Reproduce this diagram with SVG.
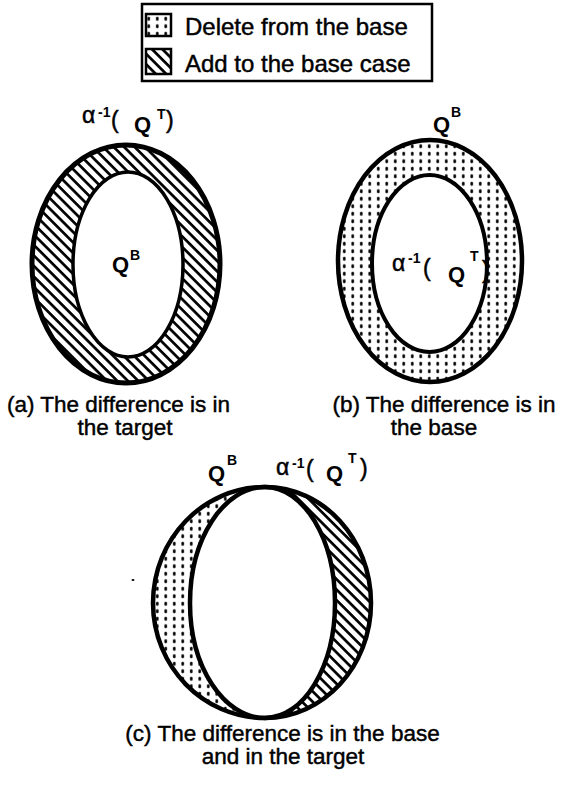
<svg xmlns="http://www.w3.org/2000/svg" width="561" height="787" viewBox="0 0 561 787">
<style>
text{font-family:"Liberation Sans",Arial,sans-serif;fill:#000}
.cap{font-size:22.5px;stroke:#000;stroke-width:0.45}
.leg{font-size:24px;stroke:#000;stroke-width:0.45}
.lbl{font-size:23px;stroke:#000;stroke-width:0.5}
.q{font-size:22px;font-weight:bold}
.sup{font-size:14px;font-weight:bold}
.ring{stroke:#000;fill:none}
</style>
<defs>
<pattern id="hatch" width="7.4" height="7.4" patternUnits="userSpaceOnUse" patternTransform="rotate(45)">
<rect width="7.4" height="7.4" fill="#fff"/>
<rect y="0" width="7.4" height="2.7" fill="#000"/>
</pattern>
<pattern id="dots" width="8.5" height="7.5" patternUnits="userSpaceOnUse">
<rect width="8.5" height="7.5" fill="#fff"/>
<ellipse cx="4.25" cy="3.75" rx="1.4" ry="2.1" fill="#000"/>
</pattern>
</defs>

<g id="legend">
<rect x="142" y="4" width="290" height="77" fill="#fff" stroke="#000" stroke-width="2.5"/>
<rect x="146" y="14" width="25" height="22" fill="url(#dots)" stroke="#000" stroke-width="2.5"/>
<rect x="146" y="49" width="25" height="25" fill="url(#hatch)" stroke="#000" stroke-width="2.5"/>
<text class="leg" x="185" y="35">Delete from the base</text>
<text class="leg" x="185" y="72">Add to the base case</text>
</g>

<g id="node-a">
<ellipse cx="126" cy="264" rx="94" ry="119" fill="url(#hatch)"/>
<ellipse cx="128" cy="264.5" rx="55" ry="92.5" fill="#fff"/>
<ellipse class="ring" cx="126" cy="264" rx="94" ry="119" stroke-width="5"/>
<ellipse class="ring" cx="128" cy="264.5" rx="55" ry="92.5" stroke-width="3.5"/>
<text class="lbl" x="82" y="123">α</text>
<text class="sup" x="98" y="117">-1</text>
<text class="lbl" x="111" y="128">(</text>
<text class="q" x="134" y="132">Q</text>
<text class="sup" x="157" y="119">T</text>
<text class="lbl" x="166" y="128">)</text>
<text class="q" x="112" y="272">Q</text>
<text class="sup" x="130" y="260">B</text>
</g>

<g id="node-b">
<ellipse cx="430" cy="261" rx="92" ry="121" fill="url(#dots)"/>
<ellipse cx="429.5" cy="263.5" rx="57.5" ry="88.5" fill="#fff"/>
<ellipse class="ring" cx="430" cy="261" rx="92" ry="121" stroke-width="4.5"/>
<ellipse class="ring" cx="429.5" cy="263.5" rx="57.5" ry="88.5" stroke-width="4"/>
<text class="q" x="433" y="132">Q</text>
<text class="sup" x="451" y="117">B</text>
<text class="lbl" x="392" y="271">α</text>
<text class="sup" x="408" y="263">-1</text>
<text class="lbl" x="423" y="276">(</text>
<text class="q" x="448" y="282">Q</text>
<text class="sup" x="470" y="261">T</text>
<text class="lbl" x="482" y="278">)</text>
</g>

<g id="node-c">
<path d="M265,487 C203.1,487 153,538.9 153,603 C153,666.5 203.1,718 265,718 C303.7,718 335,666.5 335,603 C335,538.9 303.7,487 265,487 Z" fill="url(#dots)"/>
<path d="M265,487 C323.5,487 371,538.9 371,603 C371,666.5 323.5,718 265,718 C223.6,718 190,666.5 190,603 C190,538.9 223.6,487 265,487 Z" fill="url(#hatch)"/>
<path d="M265,487 C223.6,487 190,538.9 190,603 C190,666.5 223.6,718 265,718 C303.7,718 335,666.5 335,603 C335,538.9 303.7,487 265,487 Z" fill="#fff"/>
<path class="ring" d="M265,487 C203.1,487 153,538.9 153,603 C153,666.5 203.1,718 265,718 C303.7,718 335,666.5 335,603 C335,538.9 303.7,487 265,487 Z" stroke-width="4.5"/>
<path class="ring" d="M265,487 C323.5,487 371,538.9 371,603 C371,666.5 323.5,718 265,718 C223.6,718 190,666.5 190,603 C190,538.9 223.6,487 265,487 Z" stroke-width="4.5"/>
<text class="q" x="208" y="481">Q</text>
<text class="sup" x="227" y="465">B</text>
<text class="lbl" x="276" y="475">α</text>
<text class="sup" x="292" y="468">-1</text>
<text class="lbl" x="306" y="477">(</text>
<text class="q" x="326" y="481">Q</text>
<text class="sup" x="348" y="463">T</text>
<text class="lbl" x="360" y="476">)</text>
<ellipse cx="133" cy="580" rx="1.5" ry="1" fill="#000"/>
</g>

<g id="captions">
<text class="cap" x="118.5" y="412" text-anchor="middle">(a) The difference is in</text>
<text class="cap" x="125" y="435" text-anchor="middle">the target</text>
<text class="cap" x="444" y="412" text-anchor="middle">(b) The difference is in</text>
<text class="cap" x="434" y="435" text-anchor="middle">the base</text>
<text class="cap" x="282.5" y="741" text-anchor="middle">(c) The difference is in the base</text>
<text class="cap" x="283" y="764" text-anchor="middle">and in the target</text>
</g>
</svg>
